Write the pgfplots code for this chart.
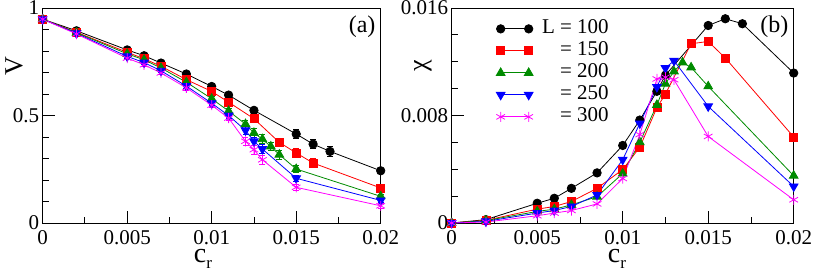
\documentclass[border=0pt]{standalone}
\usepackage{fontspec}
\setmainfont{Liberation Serif}
\usepackage{pgfplots}
\pgfplotsset{compat=1.18}
\definecolor{ggreen}{RGB}{0,139,0}
\definecolor{mmag}{RGB}{255,0,255}

\pgfplotsset{
 mystyle/.style={
  scale only axis, height=215pt,
  xmin=0, xmax=0.02,
  scaled x ticks=false, scaled y ticks=false,
  xtick={0,0.005,0.01,0.015,0.02}, xticklabels={0,0.005,0.01,0.015,0.02},
  minor x tick num=1,
  tick align=inside, xtick pos=left, ytick pos=left,
  major tick length=12pt, minor tick length=6.5pt,
  every tick/.style={black, line width=0.9pt},
  axis line style={line width=0.9pt},
  tick label style={font=\fontsize{21}{21}\selectfont},
  xticklabel style={inner sep=2pt, yshift=-5pt},
  clip=false,
  every axis plot/.append style={line width=0.8pt},
  legend image code/.code={\draw[mark repeat=2,mark phase=1] plot coordinates {(0pt,0pt) (14pt,0pt) (28pt,0pt)};},
  xlabel={c\raisebox{-0.45ex}{\fontsize{17}{17}\selectfont r}},
  xlabel style={font=\fontsize{28}{28}\selectfont, anchor=base, inner sep=0pt},
  ylabel style={font=\fontsize{26}{26}\selectfont, anchor=center},
 },
 sblack/.style={black, mark=*, mark size=4.2pt, mark options={fill=black, solid}},
 sred/.style={red, mark=square*, mark size=4pt, mark options={fill=red, solid}},
 sgreen/.style={ggreen, mark=triangle*, mark size=5pt, mark options={fill=ggreen, solid}},
 sblue/.style={blue, mark=triangle*, mark size=5pt, mark options={fill=blue, solid, rotate=180}},
 smag/.style={mmag, mark=asterisk, mark size=5pt, mark options={solid}},
 eb/.style={error bars/.cd, y dir=both, y explicit, error bar style={line width=0.8pt}, error mark options={rotate=90, mark size=3pt, line width=0.8pt}},
}

\begin{document}
\begin{tikzpicture}
\useasboundingbox (-42.7pt,-53.7pt) rectangle (771.3pt,223pt);
\begin{axis}[mystyle, width=338pt,
  ymin=0, ymax=1, ytick={0,0.5,1}, yticklabels={0,0.5,1}, minor y tick num=4,
  ylabel={V},
  xlabel style={at={(axis description cs:0.474,-0.186)}},
  ylabel style={at={(axis description cs:-0.085,0.73)}},
]
\addplot+[sblack, eb] table[x index=0, y index=1, y error index=2] {
0 0.948 0
0.002 0.894 0.005
0.005 0.805 0.008
0.006 0.778 0.008
0.007 0.744 0.008
0.0085 0.693 0.010
0.01 0.635 0.010
0.011 0.595 0.012
0.0125 0.524 0.015
0.015 0.414 0.020
0.016 0.367 0.022
0.017 0.333 0.022
0.02 0.243 0.012
};
\addplot+[sred, eb] table[x index=0, y index=1, y error index=2] {
0 0.948 0
0.002 0.887 0.005
0.005 0.794 0.008
0.006 0.764 0.008
0.007 0.729 0.008
0.0085 0.667 0.010
0.01 0.612 0.010
0.011 0.562 0.012
0.0125 0.485 0.015
0.014 0.375 0.020
0.015 0.326 0.020
0.016 0.279 0.022
0.02 0.163 0.012
};
\addplot+[sgreen, eb] table[x index=0, y index=1, y error index=2] {
0 0.948 0
0.002 0.885 0.005
0.005 0.787 0.008
0.006 0.759 0.008
0.007 0.721 0.008
0.0085 0.655 0.010
0.01 0.578 0.010
0.011 0.521 0.012
0.012 0.460 0.018
0.0125 0.419 0.020
0.013 0.390 0.020
0.0135 0.356 0.020
0.014 0.318 0.020
0.015 0.251 0.015
0.02 0.124 0.010
};
\addplot+[sblue, eb] table[x index=0, y index=1, y error index=2] {
0 0.948 0
0.002 0.882 0.005
0.005 0.775 0.008
0.006 0.746 0.008
0.007 0.708 0.008
0.0085 0.637 0.010
0.01 0.557 0.010
0.011 0.500 0.012
0.012 0.431 0.020
0.0125 0.380 0.020
0.013 0.344 0.020
0.015 0.208 0.015
0.02 0.105 0.010
};
\addplot+[smag, eb] table[x index=0, y index=1, y error index=2] {
0 0.948 0
0.002 0.879 0.005
0.005 0.767 0.008
0.006 0.736 0.008
0.007 0.698 0.008
0.0085 0.629 0.010
0.01 0.548 0.010
0.011 0.488 0.012
0.012 0.380 0.020
0.0125 0.341 0.020
0.013 0.294 0.020
0.015 0.166 0.015
0.02 0.080 0.010
};
\node[anchor=north east, font=\fontsize{24}{24}\selectfont, inner sep=0pt] at (axis description cs:0.985,0.965) {(a)};
\end{axis}

\begin{axis}[mystyle, width=342pt, at={(409pt,0pt)},
  ymin=0, ymax=0.016, ytick={0,0.008,0.016}, yticklabels={0,0.008,0.016}, minor y tick num=3,
  ylabel={χ},
  xlabel style={at={(axis description cs:0.483,-0.186)}},
  ylabel style={at={(axis description cs:-0.084,0.73)}},
  legend style={at={(axis description cs:0.13,0.955)}, anchor=north west, draw=none, fill=none,
    inner sep=0pt, row sep=0pt, font=\fontsize{21}{21}\selectfont,
    nodes={inner sep=1pt, text height=15pt, text depth=5pt},
    /tikz/every odd column/.append style={column sep=8pt}},
  legend cell align=left,
]
\addplot+[sblack] table {
0 0
0.002 0.00025
0.005 0.00147
0.006 0.00184
0.007 0.00258
0.0085 0.00373
0.01 0.00577
0.011 0.00766
0.012 0.0098
0.0125 0.0110
0.015 0.0147
0.016 0.0152
0.017 0.01483
0.02 0.01116
};
\addlegendentry{L = 100}
\addplot+[sred] table {
0 0
0.002 0.0002
0.005 0.00103
0.006 0.00123
0.007 0.0016
0.0085 0.00258
0.01 0.00398
0.011 0.00564
0.012 0.00859
0.0125 0.0096
0.014 0.01334
0.015 0.01351
0.016 0.01228
0.02 0.0064
};
\addlegendentry{\phantom{L} = 150}
\addplot+[sgreen] table {
0 0
0.002 0.00018
0.005 0.00086
0.006 0.00103
0.007 0.00135
0.0085 0.00196
0.01 0.00368
0.011 0.00601
0.012 0.00879
0.0125 0.01037
0.013 0.01128
0.0135 0.01195
0.014 0.01158
0.015 0.01017
0.02 0.00352
};
\addlegendentry{\phantom{L} = 200}
\addplot+[sblue] table {
0 0
0.002 0.00012
0.005 0.00074
0.006 0.00093
0.007 0.00123
0.0085 0.00209
0.01 0.00471
0.011 0.00741
0.012 0.01012
0.0125 0.01153
0.013 0.01208
0.015 0.00868
0.02 0.00272
};
\addlegendentry{\phantom{L} = 250}
\addplot+[smag] table {
0 0
0.002 0.00007
0.005 0.00054
0.006 0.00074
0.007 0.00093
0.0085 0.00142
0.01 0.00331
0.011 0.00658
0.012 0.01072
0.0125 0.01085
0.013 0.01066
0.015 0.00644
0.02 0.00173
};
\addlegendentry{\phantom{L} = 300}
\node[anchor=north east, font=\fontsize{24}{24}\selectfont, inner sep=0pt] at (axis description cs:0.985,0.965) {(b)};
\end{axis}
\end{tikzpicture}
\end{document}
